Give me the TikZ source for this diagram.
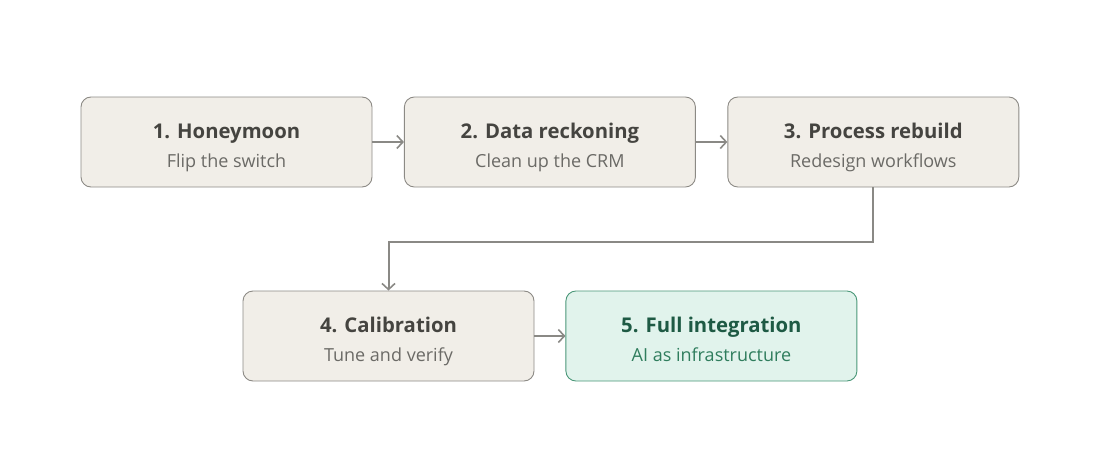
\documentclass[tikz,border=0pt]{standalone}
\usepackage{fontspec}
\setmainfont{Open Sans}
\usepackage{tikz}
\usetikzlibrary{arrows.meta,positioning}
\definecolor{stagefill}{HTML}{F1EEE8}
\definecolor{stageline}{HTML}{8C8A85}
\definecolor{stagetext}{HTML}{454440}
\definecolor{stagesub}{HTML}{6B6A66}
\definecolor{donefill}{HTML}{E1F3EC}
\definecolor{doneline}{HTML}{4A9778}
\definecolor{donetext}{HTML}{1E5A44}
\definecolor{donesub}{HTML}{2F7D5D}
\definecolor{flowgray}{HTML}{8A8985}
\newcommand{\stage}[2]{{\fontsize{20.3}{29}\selectfont\bfseries\rule{0pt}{26pt}#1}\\{\fontsize{18}{29}\selectfont\color{stagesub}\rule[-5pt]{0pt}{5pt}#2}}
\newcommand{\donestage}[2]{{\fontsize{20.3}{29}\selectfont\bfseries\rule{0pt}{26pt}#1}\\{\fontsize{18}{29}\selectfont\color{donesub}\rule[-5pt]{0pt}{5pt}#2}}

\begin{document}
\begin{tikzpicture}[
  x=1pt, y=-1pt,
  node distance=31.5pt,
  stagebox/.style={draw=stageline, fill=stagefill, text=stagetext, rounded corners=10pt, line width=0.9pt, align=center, minimum width=291pt, minimum height=90pt, inner sep=0pt, font=\fontsize{18}{29}\selectfont},
  donebox/.style={stagebox, draw=doneline, fill=donefill, text=donetext},
  flow/.style={-{Straight Barb[length=6pt,width=13pt,line width=1.6pt]}, line width=2pt, color=flowgray}
]
\useasboundingbox (0,0) rectangle (1100,452);
\node[stagebox] (honeymoon) at (226.5,142) {\stage{1. Honeymoon}{Flip the switch}};
\node[stagebox, right=of honeymoon] (reckoning) {\stage{2. Data reckoning}{Clean up the CRM}};
\node[stagebox, right=of reckoning] (rebuild) {\stage{3. Process rebuild}{Redesign workflows}};
\node[stagebox] (calibration) at (388.5,336) {\stage{4. Calibration}{Tune and verify}};
\node[donebox, right=31pt of calibration] (integration) {\donestage{5. Full integration}{AI as infrastructure}};
\coordinate (turn) at (0,242);
\draw[flow] (honeymoon) -- (reckoning);
\draw[flow] (reckoning) -- (rebuild);
\draw[flow] (rebuild.south) |- (turn -| calibration.north) -- (calibration.north);
\draw[flow] (calibration) -- (integration);
\end{tikzpicture}
\end{document}
